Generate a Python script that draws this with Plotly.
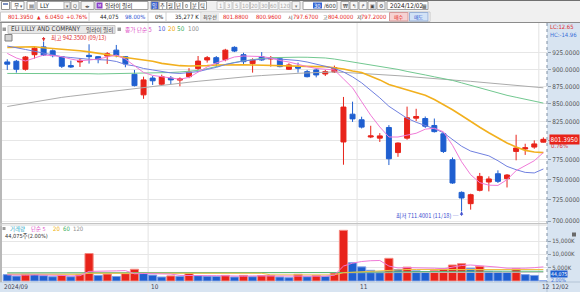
import math
import plotly.graph_objects as go

# ---------------- data ----------------
dates = ["2024-09-09","2024-09-10","2024-09-11","2024-09-12","2024-09-13","2024-09-16","2024-09-17","2024-09-18","2024-09-19","2024-09-20",
         "2024-09-23","2024-09-24","2024-09-25","2024-09-26","2024-09-27","2024-09-30","2024-10-01","2024-10-02","2024-10-03","2024-10-04",
         "2024-10-07","2024-10-08","2024-10-09","2024-10-10","2024-10-11","2024-10-14","2024-10-15","2024-10-16","2024-10-17","2024-10-18",
         "2024-10-21","2024-10-22","2024-10-23","2024-10-24","2024-10-25","2024-10-28","2024-10-29","2024-10-30","2024-10-31","2024-11-01",
         "2024-11-04","2024-11-05","2024-11-06","2024-11-07","2024-11-08","2024-11-11","2024-11-12","2024-11-13","2024-11-14","2024-11-15",
         "2024-11-18","2024-11-19","2024-11-20","2024-11-21","2024-11-22","2024-11-25","2024-11-26","2024-11-27","2024-11-29","2024-12-02"]
opens = [911,912,900,922,934,928,919,905.5,911,921, 919,920,929,919,892.6,862.7,887,878,887,884,
         889,901,914,917.5,914.4,933.3,922,908.5,919,915.5, 915.9,900,904,896.5,899,893,896,797.9,835.5,827.8,
         804.5,803,817.3,784,803,830,829.5,820,808.8,774.8, 734,720.4,736.5,746.7,757,750.8,785.5,788.7,791.2,797.67]
highs = [915,914,920,934,942.35,930,920,913,916.5,938, 920,926,937,920,899,889,890,892,890,888,
         901.7,920,920,920,931,935,925,916.5,926,920, 918,909,910,899,901.5,899,905.5,859.7,853,832,
         819.6,809.7,820.5,797.3,846,843,832.3,829.5,809.7,777.7, 735.2,732.4,758,753.7,761.3,756.6,807.5,795.6,800,804.0]
lows = [899,895,898,916,920,918,902,902,903.5,908.5, 909,908,918,903,874.8,857,877,877,878,875,
        886.8,899,910,905,912,926,908,895,912.5,904, 903,899,895,888,888,890,894.5,768.4,824.8,816,
        803,797.9,768,778.5,800.9,826,816.7,810.5,783.5,744.5, 711.4,713.3,735.2,735.2,745.5,740,774,781,789,797.2]
closes = [907.6,900,918.5,932,921.5,920.5,904.5,903.5,913.5,919, 915,923.5,921,908,876,884.3,883,889,884.3,885.8,
          896,912.3,917.5,909,929,927.6,911.4,913.9,914,917, 904,906.5,901.6,889,891.6,896.5,902.6,845.4,829,817.8,
          806,806,776,796.5,830.5,832.3,819,811.7,785.5,745.5, 727.2,731.2,753.7,750.5,747.5,755.4,790,790.3,795.35,801.395]

ma5 = [924,917,912.4,917,921.5,920.7,918.9,915.4,912.8,913.9, 915.4,918.5,921.5,915.4,905,895.3,890.9,888.8,886.5,885.3,
       888,895.3,903.5,909.4,913.9,918.5,920,920,919.2,917, 913.2,910.9,907.2,904,901.2,899.8,899,885.8,872.8,853,
       834,818,804.5,804.5,806.8,809.5,815,816.3,811.5,793.6, 772.2,755.8,745.9,742.8,742.5,749.6,760.9,767.1,773.5,784]
ma10 = [935.3,933,930,927.2,924.5,921.5,918.9,917.7,916.2,915, 914.4,913.9,911.7,907.2,905,901.2,899,896.8,894.6,893.8,
        894.6,896.5,899.8,902.8,907.2,910.2,912.4,913.9,915.4,916.2, 915.4,914.7,913.2,910.9,907.9,905,901.2,896,888.8,880,
        869.2,858.4,846.5,837.5,829.8,824.4,820.3,815.6,810.2,801.6, 792.3,786,782.5,779.8,773.5,766.3,762.1,758.7,758,763]
ma20 = [933.3,933.8,934.1,934.2,932.7,931.7,930.7,929.9,928.1,926.3, 924.5,922.2,920,917.7,915.8,913.9,912,908.9,907,905.4,
        905,904.9,905.4,906.5,906.8,906.9,906.8,906.5,906.1,905.8, 905.4,904.2,904.1,904,904,904,902.8,900.5,897.5,895.3,
        889.7,884.3,877.7,873.7,869.9,866,862,856,849,841.6, 833.6,825.1,817.6,810.2,803.2,796.6,791.3,786.9,784.7,783.9]
ma50 = [893.8,893.8,893.8,893.8,894,894.2,894.4,894.6,894,893.5, 893.1,893.3,893.5,893.7,893.8,894,894.3,894.6,895.2,896,
        897,898.3,901,904.2,907.2,910.2,912.6,914.7,916.3,917.5, 918,918.1,918.2,918.1,917.7,917,915.4,913.2,910.9,909.4,
        907.2,905,902.8,899.8,896.8,894.6,891.6,888.8,886.5,883.6, 880,876.3,872.8,869.2,865.6,862,859.2,856.3,853.5,851]
ma100 = [846.2,848.4,850.7,852.9,855.2,857.4,859.1,860.7,862.3,864, 865.6,867,868.5,869.9,871.4,872.8,874.4,876,877.7,879.3,
         880.9,882.3,883.7,885.1,886.5,887.9,888.9,889.8,890.7,891.7, 892.6,893.3,894,894.6,895.1,895.6,896,895.4,894.7,894.1,
         893.3,892.4,891.6,890.5,889.4,888.2,887.1,886.1,885,884.1, 883.1,882.2,881,879.9,878.7,877.5,876.4,875.2,874,872.8]

volumes_k = [2380,1850,2600,2380,2000,1600,2100,1600,2400,10300, 2100,2600,1700,2750,4400,3000,2200,1500,1900,1700,
             2800,2000,1800,1700,2100,1500,2100,1600,2050,2100, 1500,1250,2500,1600,2100,1750,3000,19000,6850,5300,
             4000,3400,8500,4300,5200,3800,3500,3900,4600,6000, 6500,4800,5500,3600,3400,3300,4600,2400,2100,44.075]
vma5 = [2300,2200,2200,2300,2300,2200,2100,1900,2000,3600, 3600,3800,3800,3900,2700,2800,2800,2800,2600,2100,
        2000,2000,2000,2000,1900,1900,1800,1900,1900,1900, 1900,1800,1800,1800,1800,1800,2200,5600,6700,7300,
        7600,7700,5600,4900,5000,5000,5000,4800,4600,5200, 5800,6000,5800,5600,5200,4800,4700,4800,5000,5300]
vma20 = [2500,2500,2500,2500,2500,2500,2500,2500,2500,2900, 2900,2900,2900,2900,2900,2900,2900,2900,2900,2900,
         2900,2900,2900,2900,2900,2900,2900,2900,2900,2300, 2300,2300,2300,2300,2300,2300,2300,3100,3300,3500,
         3600,3800,4100,4200,4300,4300,4300,4300,4350,4400, 4450,4500,4500,4450,4400,4350,4300,4300,4300,4300]
vma60 = [3050,3050,3040,3040,3030,3030,3020,3020,3010,3100, 3100,3100,3090,3090,3100,3100,3090,3080,3070,3060,
         3060,3050,3040,3030,3020,3010,3000,2990,2980,2970, 2960,2950,2950,2940,2930,2920,2920,3200,3280,3330,
         3370,3400,3480,3520,3560,3580,3600,3610,3620,3650, 3680,3700,3710,3700,3690,3680,3670,3660,3650,3650]
vma120 = [2950,2950,2940,2940,2930,2930,2930,2920,2920,2980, 2980,2980,2970,2970,2980,2980,2970,2960,2960,2950,
          2950,2940,2940,2930,2930,2920,2920,2910,2910,2900, 2900,2890,2890,2880,2880,2870,2870,3010,3050,3070,
          3090,3100,3140,3160,3180,3190,3200,3210,3220,3240, 3260,3270,3280,3280,3280,3280,3270,3270,3260,3260]

price_ticks = [700, 725, 750, 775, 800, 825, 850, 875, 900, 925]
price_tick_labels = ["700.0000", "725.0000", "750.0000", "775.0000", "", "825.0000", "850.0000", "875.0000", "900.0000", "925.0000"]
vol_ticks = [5000, 10000, 15000]
vol_tick_labels = ["5,000K", "10,000K", "15,000K"]
month_starts = [0, 16, 39, 59]
month_labels = ["2024/09", "10", "11", "12"]

# ---------------- geometry helpers ----------------
W, H = 580, 292
L, R, T, B = 0, 33, 23, 10
PW, PH = W - L - R, H - T - B
def px(x): return (x - L) / PW
def py(y): return (H - B - y) / PH

RED = '#e8231a'; BLUE = '#1f5fd0'; TXT = '#333333'
FONT = "Liberation Sans Narrow, DejaVu Sans Condensed, Liberation Sans, Noto Sans CJK KR, sans-serif"
KFONT = "Noto Sans CJK KR, Liberation Sans, sans-serif"
FS = 6.4
KS = 5.7

fig = go.Figure()

for vals, color, width in [(ma100, '#ababab', 1), (ma50, '#72c890', 1), (ma20, '#f2b01e', 1.6),
                           (ma10, '#7080e0', 1), (ma5, '#f07ad8', 1)]:
    fig.add_trace(go.Scatter(x=dates, y=vals, mode='lines', line=dict(color=color, width=width),
                             hoverinfo='skip', showlegend=False, xaxis='x', yaxis='y'))
fig.add_trace(go.Candlestick(x=dates, open=opens, high=highs, low=lows, close=closes,
                             increasing=dict(line=dict(color=RED, width=1), fillcolor=RED),
                             decreasing=dict(line=dict(color=BLUE, width=1), fillcolor=BLUE),
                             whiskerwidth=0, hoverinfo='skip', showlegend=False, xaxis='x', yaxis='y'))

vol_colors = [RED if i > 0 and volumes_k[i] > volumes_k[i - 1] else BLUE for i in range(len(volumes_k))]
vol_lines = ['#f4887f' if c == RED else '#7d9fe6' for c in vol_colors]
fig.add_trace(go.Bar(x=dates, y=volumes_k, marker=dict(color=vol_colors, line=dict(color=vol_lines, width=1)),
                     hoverinfo='skip', showlegend=False, xaxis='x2', yaxis='y2'))
for vals, color in [(vma120, '#bdbdbd'), (vma60, '#5cb878'), (vma20, '#f0c040'), (vma5, '#f07ad8')]:
    fig.add_trace(go.Scatter(x=dates, y=vals, mode='lines', line=dict(color=color, width=1),
                             hoverinfo='skip', showlegend=False, xaxis='x2', yaxis='y2'))

shapes = []
annos = []

def rect(x0, y0, x1, y1, fill, line=None, lw=1, layer='above'):
    shapes.append(dict(type='rect', xref='paper', yref='paper', x0=px(x0), x1=px(x1), y0=py(y1), y1=py(y0),
                       fillcolor=fill, line=dict(color=line or 'rgba(0,0,0,0)', width=lw if line else 0), layer=layer))

def hline(x0, x1, y, color, w=1, dash='solid'):
    shapes.append(dict(type='line', xref='paper', yref='paper', x0=px(x0), x1=px(x1), y0=py(y), y1=py(y),
                       line=dict(color=color, width=w, dash=dash), layer='above'))

def vline(x, y0, y1, color, w=1, dash='solid'):
    shapes.append(dict(type='line', xref='paper', yref='paper', x0=px(x), x1=px(x), y0=py(y0), y1=py(y1),
                       line=dict(color=color, width=w, dash=dash), layer='above'))

def txt(x, y, s, color=TXT, size=FS, anchor='left', family=FONT, bg=None):
    annos.append(dict(xref='paper', yref='paper', x=px(x), y=py(y), text=s, showarrow=False,
                      xanchor=anchor, yanchor='middle', font=dict(family=family, size=size, color=color),
                      bgcolor=bg, borderpad=0))

# ---- toolbar ----
rect(0, 0, 580, 23, '#f0f0f0', layer='above')
hline(0, 580, 0.5, '#707070')
rect(1.5, 1.5, 9.5, 9.5, '#ffffff', '#909090'); rect(3, 3, 8, 5, '#7a8fc0')
rect(11, 1.5, 24, 9.5, '#ffffff', '#a0a0a0'); txt(12.5, 5.5, '무', size=KS, family=KFONT); txt(18.5, 5.5, '▾', '#555', 5)
rect(27, 1.5, 35, 9.5, '#ffffff', '#a0a0a0'); txt(31, 5.5, '▤', '#555', 6, 'center')
rect(37, 1.5, 70, 9.5, '#ffffff', '#a0a0a0'); txt(39, 5.5, 'LLY', '#222'); rect(64, 2, 70, 9, '#eeeeee', '#b0b0b0'); txt(67, 5.5, '▾', '#555', 5, 'center')
rect(71, 1.5, 79, 9.5, '#f6f6f6', '#a0a0a0'); txt(75, 5.5, 'Q', '#555', 5.5, 'center')
rect(81, 1.5, 94, 9.5, '#f6f6f6', '#a0a0a0'); txt(87.5, 5.5, '◂▸', '#555', 5, 'center')
rect(95, 1.5, 148, 9.5, '#ffffff', '#a0a0a0'); rect(96.5, 2.5, 102.5, 8.5, '#8a3fc8'); txt(99.5, 5.5, 'M', '#ffffff', 4, 'center')
txt(104, 5.5, '일라이 릴리', '#222', KS, family=KFONT)
for i, s in enumerate(['일', '주', '월', '년', '0', '분', '틱']):
    x0 = 151 + 8 * i
    rect(x0, 1.5, x0 + 7.5, 9.5, '#3a5fcd' if i == 0 else '#ffffff', '#a0a0a0')
    txt(x0 + 3.75, 5.5, s, '#ffffff' if i == 0 else '#333', 5.3, 'center', KFONT)
xx = 217
for s, w in zip(['1', '3', '5', '10', '20', '30', '60', '120'], [7, 7, 7, 8.5, 8.5, 8.5, 8.5, 11]):
    rect(xx, 1.5, xx + w, 9.5, '#f8f8f8', '#c8c8c8'); txt(xx + w / 2, 5.5, s, '#a8a8a8', 5.8, 'center')
    xx += w + 1
rect(292, 1.5, 300, 9.5, '#f4f4f4', '#b0b0b0'); txt(296, 5.5, '▾', '#777', 5, 'center')
rect(303, 1.5, 337, 9.5, '#ffffff', '#a0a0a0'); rect(313, 2.5, 322, 8.5, '#3566d4'); txt(317.5, 5.5, '30', '#ffffff', 5.8, 'center')
txt(323, 5.5, '/600', '#333', 5.8)
for i, s in enumerate(['₩', '↰', '↱', '▣', '⚙']):
    x0 = 341 + 9 * i
    rect(x0, 1.5, x0 + 8, 9.5, '#f6f6f6', '#a0a0a0'); txt(x0 + 4, 5.5, s, '#444', 5.5, 'center')
rect(387, 1.5, 428, 9.5, '#ffffff', '#a0a0a0'); txt(388.5, 5.5, '2024/12/02', '#222', FS); txt(424, 5.5, '▦', '#555', 5.5, 'center')
# row 2
rect(0.5, 12, 430, 21.5, '#ffffff', '#c8c8c8')
for xs in [89, 148, 166, 201]:
    vline(xs, 12, 21.5, '#d0d0d0')
R2 = 5.9
LS = 5.0
txt(35.5, 16.8, '801.3950', RED, R2, 'right'); txt(36, 16.8, '▲', RED, 5)
txt(65, 16.8, '6.0450', RED, R2, 'right')
txt(87.5, 16.8, '+0.76%', RED, R2, 'right')
txt(120, 16.8, '44,075', '#222', R2, 'right')
txt(146, 16.8, '98.00%', '#2a4fd0', R2, 'right')
txt(163.5, 16.8, '0%', '#222', R2, 'right')
txt(200, 16.8, '35,277 K', '#222', R2, 'right')
rect(201.5, 12.5, 219, 21, '#ececec'); txt(210, 16.8, '최우선', '#333', LS, 'center', KFONT)
txt(250, 16.8, '801.8800', RED, R2, 'right')
txt(282.5, 16.8, '800.9600', RED, R2, 'right')
txt(290, 16.8, '시', '#333', LS, 'center', KFONT)
txt(319.5, 16.8, '797.6700', RED, R2, 'right')
txt(325.6, 16.8, '고', '#333', LS, 'center', KFONT)
txt(355, 16.8, '804.0000', RED, R2, 'right')
txt(359.6, 16.8, '저', '#333', LS, 'center', KFONT)
txt(388, 16.8, '797.2000', RED, R2, 'right')
rect(389.5, 12.5, 408, 21, '#f6d2d2', '#d49a9a'); txt(398.8, 16.8, '매수', RED, LS, 'center', KFONT)
rect(409.5, 12.5, 428, 21, '#d2e2f6', '#98b0d6'); txt(418.8, 16.8, '매도', '#2a4fd0', LS, 'center', KFONT)
hline(0, 580, 22.5, '#8c8c8c')

# ---- panels / frames ----
rect(547, 23, 580, 292, '#d8e4f1', layer='below')
rect(0, 282, 547, 292, '#d8e4f1', layer='below')
hline(0, 580, 282, '#b4c4d6')
vline(547, 23, 282, '#7f8fa3', 1, 'dot')
vline(547, 282, 292, '#b4c4d6')
vline(1, 23, 282, '#b8b8b8', 2)
hline(0, 547, 223.5, '#c4c4c4', 1)
hline(0, 547, 225, '#d8d8d8', 1)

for idx, lab in zip(month_starts, month_labels):
    if idx > 0:
        shapes.append(dict(type='line', xref='x', yref='paper', x0=idx - 0.5, x1=idx - 0.5, y0=py(292), y1=py(23),
                           line=dict(color='#e2e2e2', width=1), layer='below'))
        annos.append(dict(xref='x', yref='paper', x=idx - 0.5, y=py(287), text=lab, showarrow=False, xanchor='left',
                          yanchor='middle', xshift=1, font=dict(family=FONT, size=FS, color='#445')))
    else:
        txt(2.5, 287, lab, '#445', FS)
txt(551, 287, '12/02', '#445', FS)

# ---- price legend ----
rect(2.5, 27.5, 6, 31, '#9a9a9a')
rect(8, 25.5, 115, 33.5, '#e8e8e8', '#c4c4c4')
txt(10, 29.5, 'ELI LILLY AND COMPANY', '#3a3a3a', FS)
txt(85, 29.5, '일라이 릴리', '#3a3a3a', KS, family=KFONT)
rect(117.5, 27.5, 121, 31, '#9a9a9a')
txt(123.5, 29.5, '종가 단순 5', '#e050c8', KS, family=KFONT)
txt(156.5, 29.5, '10', '#5060d8', FS)
txt(166.5, 29.5, '20', '#f0a800', FS)
txt(176, 29.5, '50', '#40b060', FS)
txt(186.5, 29.5, '100', '#909090', FS)
rect(5, 34.5, 12, 41, '#d4d4d4', '#808080')

hi_i = highs.index(max(highs)); lo_i = lows.index(min(lows))
annos.append(dict(xref='x', yref='y', x=dates[hi_i], y=math.log10(highs[hi_i]), text='', showarrow=True,
                  ax=0, ay=-6, arrowhead=2, arrowsize=0.7, arrowwidth=1, arrowcolor='#e03030', standoff=0))
annos.append(dict(xref='x', yref='y', x=dates[hi_i], y=math.log10(highs[hi_i]), text='최고 942.3500 (09/13)',
                  showarrow=False, xanchor='left', yanchor='middle', xshift=5, yshift=4,
                  font=dict(family=KFONT, size=KS, color='#e03030')))
annos.append(dict(xref='x', yref='y', x=dates[lo_i], y=math.log10(lows[lo_i]), text='', showarrow=True,
                  ax=0, ay=6, arrowhead=2, arrowsize=0.7, arrowwidth=1, arrowcolor='#4050d0', standoff=0))
annos.append(dict(xref='x', yref='y', x=dates[lo_i], y=math.log10(lows[lo_i]), text='최저 711.4001 (11/18) ─',
                  showarrow=False, xanchor='right', yanchor='middle', xshift=-1, yshift=-4,
                  font=dict(family=KFONT, size=KS, color='#4050d0')))

txt(548.5, 27.4, 'LC:12.65', '#e03030', 5.9)
txt(548.5, 35.0, 'HC:-14.96', '#3a6fd8', 5.9)
annos.append(dict(xref='paper', yref='y', x=px(549), y=math.log10(closes[-1]), text='801.3950', showarrow=False,
                  xanchor='left', yanchor='middle', bgcolor=RED, borderpad=0.5,
                  font=dict(family=FONT, size=FS, color='#ffffff')))
txt(550, 145.8, '0.76%', '#e03030', 6.0)
txt(549.5, 273.6, '44,075', '#ffffff', 5.2, bg=BLUE)
txt(550, 280.2, '2.00%', '#3a6fd8', 5.2)
rect(572, 232.5, 576, 236.5, '#6a6a6a')

rect(2.5, 227, 5.5, 230, '#9a9a9a')
txt(9, 228.5, '거래량', '#30a8c8', 5.4, family=FONT)
txt(29.5, 228.5, '단순 5', '#e050c8', 5.4, family=FONT)
txt(51.5, 228.5, '20', '#f0b000', 6.0)
txt(61.5, 228.5, '60', '#40b060', 6.0)
txt(71.5, 228.5, '120', '#909090', 6.0)
txt(3.5, 236.2, '44,075주(2.00%)', '#333', 5.6, family=FONT)

fig.update_layout(
    width=W, height=H, margin=dict(l=L, r=R, t=T, b=B, pad=0),
    paper_bgcolor='white', plot_bgcolor='white', showlegend=False,
    boxgap=0.22, bargap=0.1, font=dict(family=FONT, size=FS, color='#444'),
    xaxis=dict(type='category', range=[-0.8, 59.4], domain=[0, 1], anchor='y', showticklabels=False,
               showgrid=False, zeroline=False, showline=False, rangeslider=dict(visible=False), fixedrange=True),
    xaxis2=dict(type='category', range=[-0.8, 59.4], domain=[0, 1], anchor='y2', matches='x',
                showticklabels=False, showgrid=False, zeroline=False, showline=False),
    yaxis=dict(type='log', range=[math.log10(697.7), math.log10(971.7)], domain=[py(223), 1], side='right',
               tickvals=price_ticks, ticktext=price_tick_labels, showgrid=True,
               gridcolor='#e6e6e6', gridwidth=1, ticks='outside', ticklen=3, tickcolor='#8f9fb0',
               tickfont=dict(size=FS, color='#555'), zeroline=False, showline=False, fixedrange=True),
    yaxis2=dict(range=[-375, 21000], domain=[0, py(225)], side='right', tickvals=vol_ticks,
                ticktext=vol_tick_labels, showgrid=True, gridcolor='#e6e6e6', ticks='outside', ticklen=3,
                tickcolor='#8f9fb0', tickfont=dict(size=6.0, color='#555'), zeroline=False, showline=False),
    shapes=shapes, annotations=annos,
)

fig.write_html("out.html", config={'displayModeBar': False})
